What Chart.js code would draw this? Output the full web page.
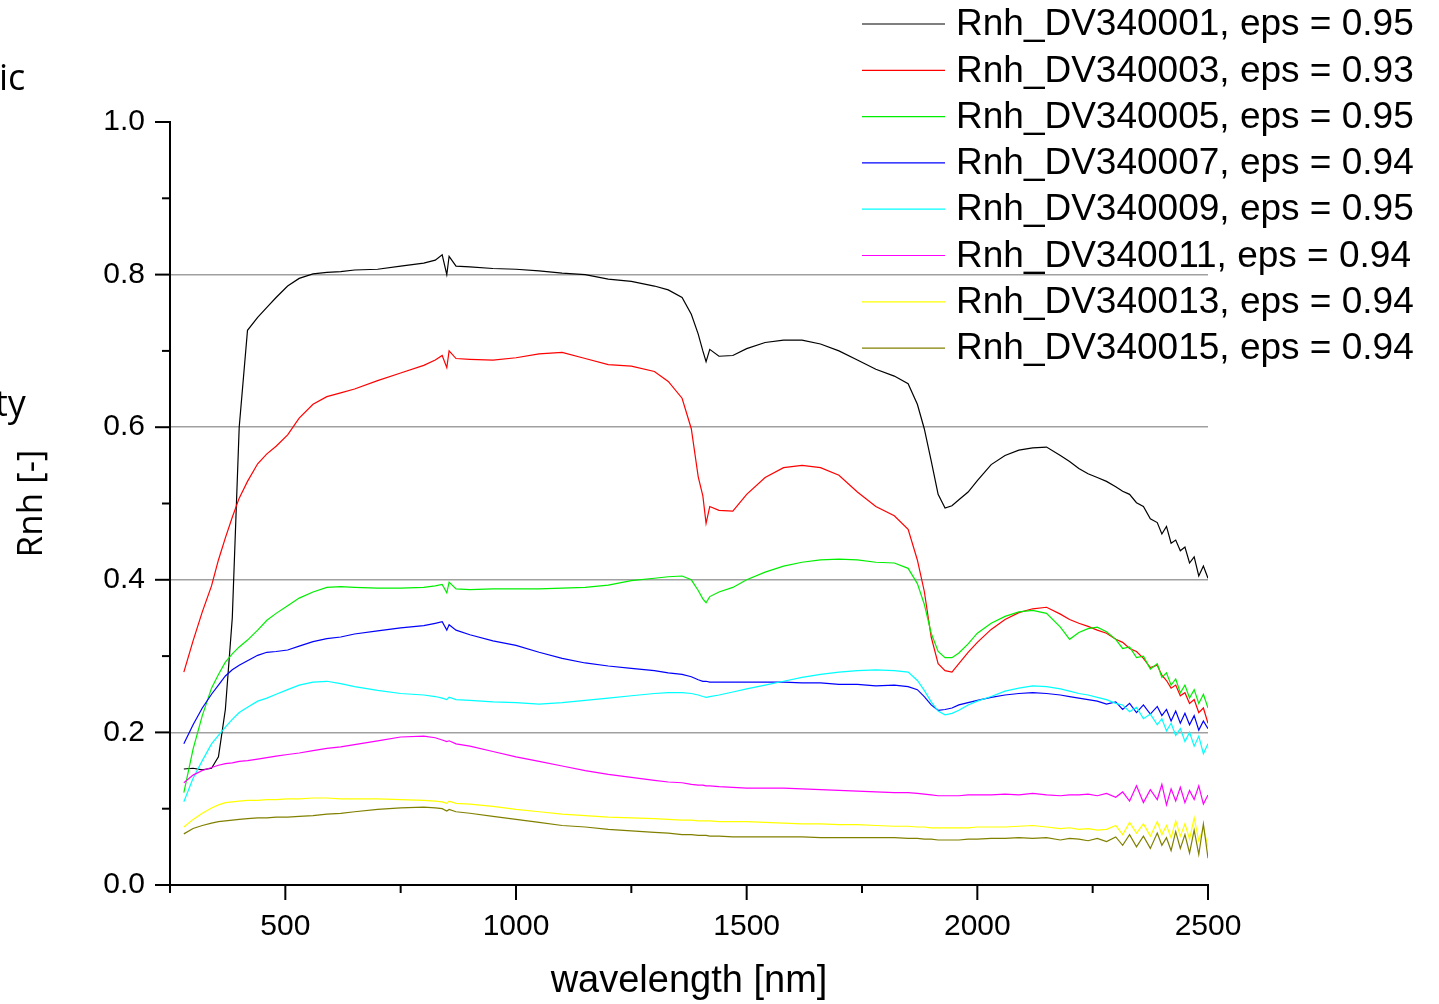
<!DOCTYPE html>
<html>
<head>
<meta charset="utf-8">
<script src="https://cdn.jsdelivr.net/npm/chart.js@4.4.1/dist/chart.umd.min.js"></script>
<style>
  html, body { margin: 0; padding: 0; background: #fff; }
  #wrap { width: 1439px; height: 1004px; position: relative; }
</style>
</head>
<body>
<div id="wrap"><canvas id="chart"></canvas></div>
<script>
// wavelength grid [nm], shared by all spectra
const wavelengths = [
  280, 300, 320, 340, 355, 370, 385, 400, 418, 440,
  460, 480, 505, 530, 560, 590, 620, 650, 700, 750,
  800, 825, 840, 850, 855, 870, 900, 950, 1000, 1050,
  1100, 1150, 1200, 1250, 1300, 1330, 1360, 1380, 1395, 1405,
  1412, 1420, 1440, 1470, 1500, 1540, 1580, 1620, 1660, 1700,
  1740, 1780, 1820, 1850, 1870, 1885, 1900, 1915, 1930, 1945,
  1960, 1980, 2000, 2030, 2060, 2090, 2120, 2150, 2180, 2200,
  2220, 2240, 2260, 2280, 2300, 2315, 2330, 2345, 2360, 2375,
  2390, 2400, 2410, 2420, 2430, 2440, 2450, 2460, 2470, 2480,
  2490, 2500
];

const rnh01 = [
  0.152, 0.153, 0.151, 0.153, 0.168, 0.23, 0.35, 0.60, 0.727, 0.744,
  0.757, 0.770, 0.785, 0.795, 0.801, 0.803, 0.804, 0.806, 0.807, 0.811,
  0.815, 0.819, 0.826, 0.800, 0.824, 0.811, 0.810, 0.808, 0.807, 0.805,
  0.802, 0.800, 0.794, 0.791, 0.785, 0.780, 0.770, 0.748, 0.722, 0.700,
  0.686, 0.702, 0.693, 0.694, 0.703, 0.711, 0.714, 0.714, 0.709, 0.700,
  0.688, 0.676, 0.667, 0.657, 0.630, 0.598, 0.556, 0.512, 0.494, 0.497,
  0.505, 0.515, 0.530, 0.551, 0.563, 0.570, 0.573, 0.574, 0.563, 0.555,
  0.546, 0.539, 0.534, 0.529, 0.522, 0.516, 0.512, 0.501, 0.496, 0.480,
  0.475, 0.460, 0.470, 0.448, 0.452, 0.438, 0.443, 0.422, 0.430, 0.405,
  0.418, 0.402
];
const rnh03 = [
  0.279, 0.320, 0.358, 0.392, 0.426, 0.455, 0.482, 0.507, 0.529, 0.552,
  0.565, 0.575, 0.590, 0.612, 0.630, 0.640, 0.645, 0.650, 0.661, 0.671,
  0.681, 0.688, 0.694, 0.678, 0.700, 0.690, 0.689, 0.688, 0.691, 0.696,
  0.698, 0.690, 0.682, 0.680, 0.673, 0.660, 0.638, 0.598, 0.535, 0.510,
  0.474, 0.496, 0.491, 0.490, 0.512, 0.534, 0.547, 0.550, 0.547, 0.537,
  0.515, 0.496, 0.484, 0.466, 0.426, 0.385, 0.325, 0.290, 0.281, 0.279,
  0.290, 0.305, 0.318, 0.335, 0.348, 0.357, 0.362, 0.364, 0.355, 0.348,
  0.343, 0.339, 0.334, 0.330, 0.322, 0.318, 0.310, 0.306, 0.297, 0.285,
  0.288, 0.275, 0.268, 0.258, 0.262, 0.248, 0.252, 0.238, 0.243, 0.226,
  0.232, 0.212
];
const rnh05 = [
  0.121, 0.178, 0.222, 0.258, 0.276, 0.292, 0.303, 0.312, 0.321, 0.334,
  0.347, 0.356, 0.366, 0.376, 0.384, 0.390, 0.391, 0.390, 0.389, 0.389,
  0.390, 0.392, 0.394, 0.383, 0.397, 0.388, 0.387, 0.388, 0.388, 0.388,
  0.389, 0.390, 0.393, 0.399, 0.402, 0.404, 0.405, 0.400, 0.386, 0.375,
  0.370, 0.378, 0.384, 0.390, 0.400, 0.410, 0.418, 0.423, 0.426, 0.427,
  0.426, 0.423, 0.422, 0.415, 0.395, 0.368, 0.330, 0.306, 0.298, 0.298,
  0.304, 0.316, 0.330, 0.343, 0.352, 0.358, 0.360, 0.356, 0.338, 0.322,
  0.331, 0.336, 0.338, 0.332, 0.322, 0.310, 0.312, 0.298, 0.300, 0.283,
  0.290, 0.272, 0.278, 0.262, 0.270, 0.252, 0.262, 0.245, 0.256, 0.238,
  0.250, 0.232
];
const rnh07 = [
  0.185, 0.210, 0.232, 0.250, 0.262, 0.274, 0.282, 0.288, 0.294, 0.301,
  0.305, 0.306, 0.308, 0.313, 0.319, 0.323, 0.325, 0.329, 0.333, 0.337,
  0.340, 0.343, 0.345, 0.334, 0.341, 0.334, 0.328, 0.320, 0.314, 0.305,
  0.297, 0.291, 0.287, 0.284, 0.281, 0.278, 0.276, 0.273, 0.269, 0.267,
  0.267, 0.266, 0.266, 0.266, 0.266, 0.266, 0.266, 0.265, 0.265, 0.263,
  0.263, 0.261, 0.262, 0.260, 0.256, 0.247, 0.236, 0.229, 0.230, 0.232,
  0.236, 0.239, 0.242, 0.246, 0.249, 0.251, 0.252, 0.251, 0.249, 0.247,
  0.245, 0.243, 0.241, 0.237, 0.240, 0.230, 0.238, 0.226, 0.236, 0.224,
  0.234, 0.222, 0.230, 0.215, 0.228, 0.212, 0.225, 0.210, 0.222, 0.203,
  0.215, 0.205
];
const rnh09 = [
  0.109, 0.140, 0.163, 0.185, 0.196, 0.207, 0.217, 0.226, 0.233, 0.241,
  0.245, 0.250, 0.256, 0.262, 0.266, 0.267, 0.264, 0.260, 0.255, 0.251,
  0.249, 0.247, 0.245, 0.243, 0.246, 0.243, 0.242, 0.240, 0.239, 0.237,
  0.239, 0.242, 0.245, 0.248, 0.251, 0.252, 0.252, 0.251, 0.249, 0.247,
  0.246, 0.247, 0.249, 0.253, 0.257, 0.262, 0.267, 0.272, 0.276, 0.279,
  0.281, 0.282, 0.281, 0.279, 0.268, 0.255, 0.240, 0.228, 0.223, 0.225,
  0.229, 0.236, 0.241, 0.247, 0.254, 0.258, 0.261, 0.260, 0.257, 0.254,
  0.251, 0.249, 0.246, 0.243, 0.238, 0.236, 0.227, 0.233, 0.218, 0.224,
  0.210, 0.218, 0.202, 0.212, 0.196, 0.205, 0.188, 0.200, 0.182, 0.195,
  0.172, 0.185
];
const rnh11 = [
  0.134, 0.144, 0.150, 0.154, 0.157, 0.159, 0.160, 0.162, 0.163, 0.165,
  0.167, 0.169, 0.171, 0.173, 0.176, 0.179, 0.181, 0.184, 0.189, 0.194,
  0.195, 0.193, 0.190, 0.188, 0.189, 0.185, 0.182, 0.175, 0.168, 0.162,
  0.156, 0.150, 0.145, 0.141, 0.137, 0.135, 0.134, 0.132, 0.131, 0.131,
  0.130, 0.130, 0.129, 0.128, 0.127, 0.127, 0.127, 0.126, 0.125, 0.124,
  0.123, 0.122, 0.121, 0.121, 0.120, 0.119, 0.118, 0.117, 0.117, 0.117,
  0.117, 0.118, 0.118, 0.118, 0.119, 0.118, 0.120, 0.118, 0.117, 0.118,
  0.118, 0.119, 0.117, 0.120, 0.115, 0.122, 0.110, 0.130, 0.108, 0.125,
  0.112, 0.132, 0.105, 0.126, 0.110, 0.128, 0.108, 0.124, 0.112, 0.130,
  0.106, 0.118
];
const rnh13 = [
  0.076, 0.086, 0.094, 0.101, 0.105, 0.108, 0.109, 0.110, 0.111, 0.111,
  0.112, 0.112, 0.113, 0.113, 0.114, 0.114, 0.113, 0.113, 0.113, 0.112,
  0.111, 0.110, 0.109, 0.107, 0.110, 0.107, 0.106, 0.103, 0.099, 0.096,
  0.093, 0.091, 0.089, 0.088, 0.087, 0.086, 0.085, 0.085, 0.084, 0.084,
  0.084, 0.084, 0.083, 0.083, 0.083, 0.082, 0.081, 0.080, 0.080, 0.079,
  0.079, 0.078, 0.077, 0.077, 0.076, 0.076, 0.075, 0.075, 0.075, 0.075,
  0.075, 0.075, 0.076, 0.076, 0.076, 0.077, 0.078, 0.076, 0.074, 0.075,
  0.073, 0.074, 0.072, 0.073, 0.078, 0.066, 0.082, 0.068, 0.080, 0.064,
  0.083, 0.066, 0.078, 0.062, 0.084, 0.064, 0.080, 0.060, 0.088, 0.058,
  0.075, 0.050
];
const rnh15 = [
  0.067, 0.074, 0.078, 0.081, 0.083, 0.084, 0.085, 0.086, 0.087, 0.088,
  0.088, 0.089, 0.089, 0.090, 0.091, 0.093, 0.094, 0.096, 0.099, 0.101,
  0.102, 0.101, 0.100, 0.097, 0.099, 0.096, 0.094, 0.090, 0.086, 0.082,
  0.078, 0.076, 0.073, 0.071, 0.069, 0.068, 0.066, 0.066, 0.065, 0.065,
  0.065, 0.064, 0.064, 0.063, 0.063, 0.063, 0.063, 0.063, 0.062, 0.062,
  0.062, 0.062, 0.062, 0.061, 0.061, 0.060, 0.060, 0.059, 0.059, 0.059,
  0.059, 0.060, 0.060, 0.061, 0.061, 0.062, 0.061, 0.062, 0.059, 0.061,
  0.060, 0.058, 0.061, 0.057, 0.063, 0.052, 0.066, 0.050, 0.064, 0.048,
  0.068, 0.052, 0.062, 0.045, 0.070, 0.048, 0.066, 0.042, 0.072, 0.040,
  0.080, 0.035
];

const seriesNames = [
  "Rnh_DV340001, eps = 0.95",
  "Rnh_DV340003, eps = 0.93",
  "Rnh_DV340005, eps = 0.95",
  "Rnh_DV340007, eps = 0.94",
  "Rnh_DV340009, eps = 0.95",
  "Rnh_DV340011, eps = 0.94",
  "Rnh_DV340013, eps = 0.94",
  "Rnh_DV340015, eps = 0.94"
];
const seriesValues = [rnh01, rnh03, rnh05, rnh07, rnh09, rnh11, rnh13, rnh15];
const seriesColors = ["#000000", "#ff0000", "#00ee00", "#0000ff", "#00ffff", "#ff00ff", "#ffff00", "#808000"];

const yTickValues = [0, 0.2, 0.4, 0.6, 0.8, 1.0];

const FONT = "'Liberation Sans', Arial, sans-serif";
const FONT2 = "'Open Sans', 'Noto Sans', sans-serif";

// minor/major tick marks, legend and clipped side texts
const decorations = {
  id: "decorations",
  afterDraw(chart) {
    const ctx = chart.ctx;
    const xs = chart.scales.x, ys = chart.scales.y;
    const area = chart.chartArea;
    ctx.save();
    ctx.strokeStyle = "#000";
    ctx.lineWidth = 2;
    for (let v = 250; v <= 2500; v += 250) {
      const px = xs.getPixelForValue(v);
      const len = v % 500 === 0 ? 15 : 8;
      ctx.beginPath();
      ctx.moveTo(px, area.bottom);
      ctx.lineTo(px, area.bottom + len);
      ctx.stroke();
    }
    for (let i = 0; i <= 10; i++) {
      const py = ys.getPixelForValue(i / 10);
      const len = i % 2 === 0 ? 15 : 8;
      ctx.beginPath();
      ctx.moveTo(area.left, py);
      ctx.lineTo(area.left - len, py);
      ctx.stroke();
    }

    // legend
    ctx.font = "37px " + FONT;
    ctx.textBaseline = "middle";
    ctx.textAlign = "left";
    chart.data.datasets.forEach((ds, i) => {
      const y = 24 + i * 46.3;
      ctx.strokeStyle = ds.borderColor;
      ctx.lineWidth = 1.2;
      ctx.beginPath();
      ctx.moveTo(862, y);
      ctx.lineTo(945, y);
      ctx.stroke();
      ctx.fillStyle = "#000";
      ctx.fillText(ds.label, 956, y + 1);
    });

    // fragments of the cut-off left-hand title
    ctx.font = "36px " + FONT2;
    ctx.textBaseline = "alphabetic";
    ctx.fillText("ic", -1, 90);
    ctx.fillText("ty", -5, 416);
    ctx.restore();
  }
};

new Chart(document.getElementById("chart"), {
  type: "line",
  data: {
    labels: wavelengths,
    datasets: seriesValues.map((vals, i) => ({
      label: seriesNames[i],
      data: vals.map((v, j) => ({ x: wavelengths[j], y: v })),
      borderColor: seriesColors[i],
      borderWidth: 1.2,
      pointRadius: 0,
      tension: 0,
      fill: false,
      order: seriesValues.length - i
    }))
  },
  options: {
    responsive: true,
    maintainAspectRatio: false,
    animation: false,
    layout: { padding: { left: 0, top: 122, right: 231, bottom: 0 } },
    plugins: { legend: { display: false }, tooltip: { enabled: false } },
    scales: {
      x: {
        type: "linear",
        min: 250,
        max: 2500,
        afterFit: (s) => { s.height = 119; },
        border: { display: true, color: "#000", width: 2 },
        grid: { display: false, drawTicks: false },
        ticks: {
          stepSize: 250,
          autoSkip: false,
          maxRotation: 0,
          padding: 24,
          color: "#000",
          font: { family: FONT, size: 30 },
          callback: (v) => (v % 500 === 0 ? String(v) : "")
        },
        title: {
          display: true,
          text: "wavelength [nm]",
          color: "#000",
          font: { family: FONT, size: 38 },
          padding: { top: -3, bottom: 0 }
        }
      },
      y: {
        min: 0,
        max: 1,
        afterFit: (s) => { s.width = 170; },
        afterBuildTicks: (s) => { s.ticks = yTickValues.map((v) => ({ value: v })); },
        border: { display: true, color: "#000", width: 2 },
        grid: {
          drawTicks: false,
          lineWidth: 1.5,
          color: (c) => (c.tick && c.tick.value > 0.1 && c.tick.value < 0.9 ? "#a0a0a0" : "rgba(0,0,0,0)")
        },
        ticks: {
          padding: 25,
          color: "#000",
          font: { family: FONT, size: 30 },
          callback: (v) => Number(v).toFixed(1)
        },
        title: {
          display: true,
          text: "Rnh [-]",
          color: "#000",
          font: { family: FONT2, size: 35 },
          padding: { top: 11, bottom: 0 }
        }
      }
    }
  },
  plugins: [decorations]
});
</script>
</body>
</html>
